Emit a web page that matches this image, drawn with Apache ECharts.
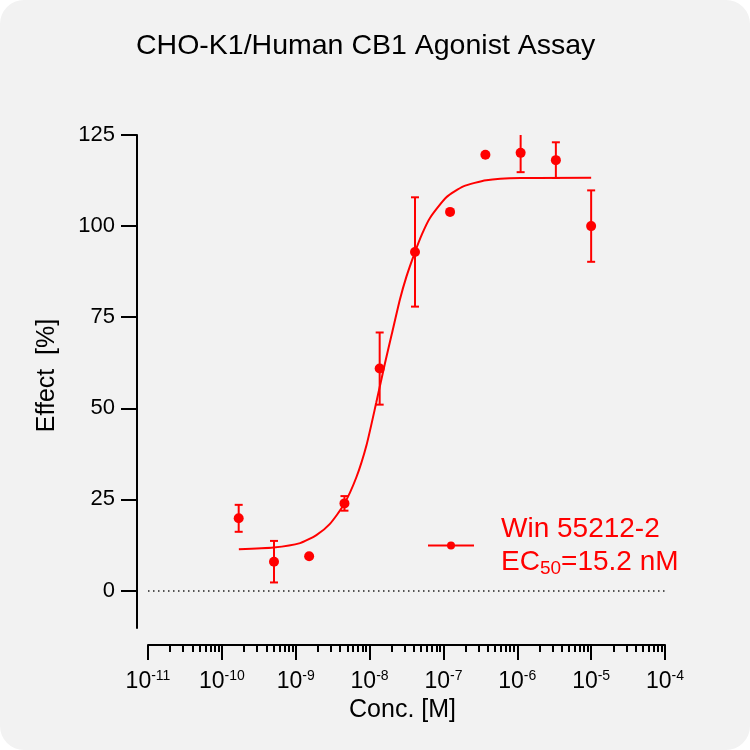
<!DOCTYPE html>
<html>
<head>
<meta charset="utf-8">
<script src="https://cdn.jsdelivr.net/npm/echarts@6.0.0/dist/echarts.min.js"></script>
<style>
  html, body { margin: 0; padding: 0; background: #ffffff; }
  #main { width: 750px; height: 750px; background: #f2f2f2; border-radius: 24px; }
</style>
</head>
<body>
<div id="main"></div>
<script>
// measured points (3-fold dilution), mean and SD of effect in %
var concentration = [1.69e-10, 5.08e-10, 1.52e-9, 4.57e-9, 1.37e-8, 4.12e-8, 1.23e-7, 3.70e-7, 1.11e-6, 3.33e-6, 1.0e-5];
var effectMean = [19.8, 7.9, 9.4, 23.9, 60.9, 92.9, 103.9, 119.6, 120.1, 118.1, 100.0];
var effectSD = [3.7, 5.7, null, 2.0, 9.9, 15.0, null, null, 5.3, 4.9, 9.8];

// fitted curve (log10 of conc.)
var curveLogConc = [-9.77, -9.30, -8.94, -8.72, -8.54, -8.35, -8.18, -8.04, -7.91, -7.79, -7.70, -7.59, -7.50, -7.39, -7.29, -7.18, -6.96, -6.73, -6.42, -5.96, -5.00];
var curveEffect = [11.3, 11.8, 13.0, 15.2, 18.2, 23.5, 31.0, 40.0, 51.5, 62.5, 70.3, 79.8, 86.2, 92.6, 97.8, 102.3, 107.9, 110.9, 112.6, 113.2, 113.3];

var xExponents = [-11, -10, -9, -8, -7, -6, -5, -4];
var yTicks = [0, 25, 50, 75, 100, 125];
var yMin = -10.3, yMax = 125;

var seriesName = 'Win 55212-2';
var font = 'Liberation Sans, Arial, Helvetica, sans-serif';

var minorTicks = [];
for (var e = -11; e < -4; e++) {
    for (var k = 2; k <= 9; k++) {
        minorTicks.push(Math.log10(k) + e);
    }
}

var points = [], bars = [];
for (var i = 0; i < concentration.length; i++) {
    var lx = Math.log10(concentration[i]);
    points.push([lx, effectMean[i]]);
    if (effectSD[i] != null) {
        bars.push([lx, effectMean[i] - effectSD[i], effectMean[i] + effectSD[i]]);
    }
}
var curve = [];
for (var j = 0; j < curveLogConc.length; j++) {
    curve.push([curveLogConc[j], curveEffect[j]]);
}

var chart = echarts.init(document.getElementById('main'), null, {renderer: 'canvas'});
chart.setOption({
    backgroundColor: 'transparent',
    animation: false,
    textStyle: {fontFamily: font},
    title: {
        text: 'CHO-K1/Human CB1 Agonist Assay',
        left: 131,
        top: 27,
        textStyle: {fontSize: 28.5, fontWeight: 'normal', color: '#000', fontFamily: font}
    },
    legend: {
        data: [seriesName],
        left: 427,
        top: 515,
        padding: 0,
        itemWidth: 46,
        itemHeight: 10,
        selectedMode: false,
        formatter: function () {
            return '{p|Win 55212-2}\n{p|EC}{s|50}{a|=15.2 nM}';
        },
        textStyle: {
            color: '#ff0000',
            rich: {
                p: {fontSize: 28, lineHeight: 33, color: '#ff0000', fontFamily: font, padding: [0, 0, 0, 22]},
                a: {fontSize: 28, lineHeight: 33, color: '#ff0000', fontFamily: font},
                s: {fontSize: 19, color: '#ff0000', fontFamily: font, padding: [14, 0, 0, 0]}
            }
        }
    },
    grid: {left: 148, right: 85, top: 135, bottom: 122},
    xAxis: [{
        type: 'value',
        min: -11,
        max: -4,
        interval: 1,
        offset: 17,
        name: 'Conc. [M]',
        nameLocation: 'middle',
        nameGap: 46,
        nameTextStyle: {fontSize: 25, color: '#000', fontFamily: font, padding: [0, 8, 0, 0]},
        axisLine: {onZero: false, lineStyle: {color: '#000', width: 2}},
        axisTick: {length: 15, lineStyle: {color: '#000', width: 2}},
        splitLine: {show: false},
        axisLabel: {
            margin: 24,
            color: '#000',
            formatter: function (v) {
                return '{b|10}{s|' + v + '}';
            },
            rich: {
                b: {fontSize: 23, color: '#000', fontFamily: font},
                s: {fontSize: 14, color: '#000', fontFamily: font, padding: [0, 0, 11, 0]}
            }
        }
    }, {
        type: 'value',
        min: -11,
        max: -4,
        interval: 1,
        offset: 17,
        position: 'bottom',
        axisLine: {show: false, onZero: false},
        axisTick: {length: 7, customValues: minorTicks, lineStyle: {color: '#000', width: 2}},
        axisLabel: {show: false},
        splitLine: {show: false}
    }],
    yAxis: {
        type: 'value',
        min: yMin,
        max: yMax,
        offset: 11,
        name: 'Effect  [%]',
        nameLocation: 'middle',
        nameGap: 77,
        nameTextStyle: {fontSize: 25, color: '#000', fontFamily: font, padding: [0, 0, 0, 12]},
        axisLine: {show: true, onZero: false, lineStyle: {color: '#000', width: 2}},
        axisTick: {show: true, length: 16, customValues: yTicks, lineStyle: {color: '#000', width: 2}},
        splitLine: {show: false},
        axisLabel: {
            customValues: yTicks,
            margin: 22,
            fontSize: 22,
            color: '#000',
            fontFamily: font
        }
    },
    series: [{
        name: seriesName,
        type: 'line',
        data: curve,
        smooth: 0.2,
        symbol: 'circle',
        symbolSize: 10,
        showSymbol: false,
        color: '#ff0000',
        lineStyle: {color: '#ff0000', width: 2},
        itemStyle: {color: '#ff0000'},
        z: 3,
        markLine: {
            silent: true,
            symbol: 'none',
            label: {show: false},
            lineStyle: {color: '#222', width: 1.5, type: [1.5, 3.5]},
            data: [{yAxis: 0}]
        }
    }, {
        name: 'errors',
        type: 'custom',
        data: bars,
        z: 4,
        renderItem: function (params, api) {
            var x = api.value(0);
            var lo = api.value(1);
            var hi = api.value(2);
            var capTop = hi <= yMax;
            var pLo = api.coord([x, lo]);
            var pHi = api.coord([x, Math.min(hi, yMax)]);
            var w = 4;
            var style = {stroke: '#ff0000', lineWidth: 2};
            var kids = [
                {type: 'line', shape: {x1: pLo[0], y1: pLo[1], x2: pHi[0], y2: pHi[1]}, style: style},
                {type: 'line', shape: {x1: pLo[0] - w, y1: pLo[1], x2: pLo[0] + w, y2: pLo[1]}, style: style}
            ];
            if (capTop) {
                kids.push({type: 'line', shape: {x1: pHi[0] - w, y1: pHi[1], x2: pHi[0] + w, y2: pHi[1]}, style: style});
            }
            return {type: 'group', children: kids};
        }
    }, {
        name: 'points',
        type: 'scatter',
        data: points,
        symbol: 'circle',
        symbolSize: 10,
        itemStyle: {color: '#ff0000', opacity: 1},
        z: 5
    }]
});
</script>
</body>
</html>
